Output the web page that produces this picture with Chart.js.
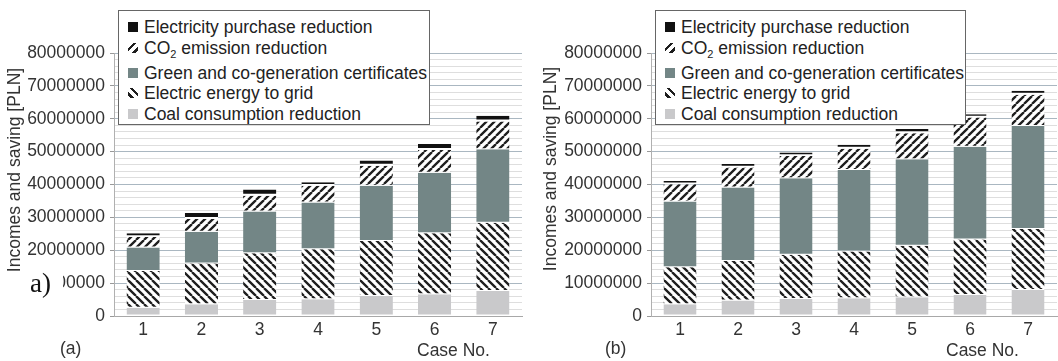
<!DOCTYPE html>
<html><head><meta charset="utf-8">
<script src="https://cdn.jsdelivr.net/npm/chart.js@4/dist/chart.umd.min.js"></script>
<style>
html,body{margin:0;padding:0;background:#fff;width:1058px;height:361px;overflow:hidden;position:relative;font-family:"Liberation Sans",Arial,sans-serif;color:#333}
.panel{position:absolute;top:0;height:361px}
.panel canvas{display:block;position:absolute;left:0;top:0}
.legend{position:absolute;top:10px;height:115px;border:1px solid #666;background:#fff;box-sizing:border-box}
.row{position:absolute;left:0;height:20px;line-height:20px;font-size:17.5px;white-space:nowrap;color:#222}
.row sub{font-size:11px;line-height:0;vertical-align:-4px}
.sw{position:absolute;left:9px;top:5px;width:10px;height:10px}
.txt{position:absolute;left:25px;top:0}
.ytitle{position:absolute;width:230px;height:22px;line-height:22px;font-size:17.5px;text-align:center;transform:rotate(-90deg);color:#333;white-space:nowrap}
.lbl{position:absolute;font-size:17.5px;line-height:22px;height:22px;color:#333;white-space:nowrap}
.amark{position:absolute;left:26px;top:270px;width:37px;height:28px;background:#fff;font-family:"Liberation Serif","Times New Roman",serif;font-size:27px;line-height:27px;color:#111}
.amark span{position:absolute;left:4px;top:0}
</style>
</head>
<body>
<div class="panel" id="pa" style="left:0;width:528px"><canvas id="ca" width="528" height="361"></canvas></div>
<div class="panel" id="pb" style="left:528px;width:530px"><canvas id="cb" width="530" height="361"></canvas></div>
<script>
// ---- data ----
const cases = ['1', '2', '3', '4', '5', '6', '7'];
const seriesNames = ['Coal consumption reduction', 'Electric energy to grid', 'Green and co-generation certificates', 'CO₂ emission reduction', 'Electricity purchase reduction'];
// (a)
const coalA  = [2500000, 3600000, 4900000, 5100000, 6100000, 6600000, 7600000];
const gridA  = [11200000, 12400000, 14200000, 15200000, 16700000, 18600000, 20800000];
const greenA = [7100000, 9600000, 12700000, 14200000, 16800000, 18400000, 22300000];
const co2A   = [3200000, 3900000, 4800000, 5100000, 6100000, 6900000, 8500000];
const elecA  = [1200000, 1800000, 1900000, 1100000, 1600000, 1800000, 1700000];
// (b)
const coalB  = [3600000, 4700000, 5200000, 5400000, 5700000, 6400000, 7900000];
const gridB  = [11200000, 12000000, 13400000, 14200000, 15700000, 16900000, 18600000];
const greenB = [20000000, 22400000, 23300000, 24800000, 26300000, 28200000, 31300000];
const co2B   = [5300000, 6100000, 6800000, 6500000, 7900000, 8900000, 9500000];
const elecB  = [1000000, 1000000, 1000000, 1200000, 1300000, 1000000, 1200000];
const yMax = 80000000, yMajor = 10000000, yMinor = 2000000;

const FONT = '"Liberation Sans", Arial, sans-serif';
const COAL = '#c9c9cb', GREEN = '#738686', ELEC = '#111111', INK = '#1e1e1e';

function stripes(ctx, dir) {
  const c = document.createElement('canvas'); c.width = 8; c.height = 8;
  const g = c.getContext('2d');
  g.fillStyle = '#fff'; g.fillRect(0, 0, 8, 8);
  g.strokeStyle = INK; g.lineWidth = 2.3; g.beginPath();
  for (let k = -1; k <= 1; k++) {
    if (dir === '/') { g.moveTo(k * 8, 8); g.lineTo(k * 8 + 8, 0); }
    else { g.moveTo(k * 8, 0); g.lineTo(k * 8 + 8, 8); }
  }
  g.stroke();
  return ctx.createPattern(c, 'repeat');
}

function makeChart(canvasId, sets, yWidth, padRight) {
  const cv = document.getElementById(canvasId);
  const ctx = cv.getContext('2d');
  const fills = [COAL, stripes(ctx, '\\'), GREEN, stripes(ctx, '/'), ELEC];
  const datasets = sets.map((d, i) => ({
    label: seriesNames[i],
    data: d,
    backgroundColor: fills[i],
    borderColor: '#ffffff',
    borderWidth: { top: 0, left: 0, right: 0, bottom: i === 4 ? 2 : 1 },
    borderSkipped: false,
    barPercentage: 0.57,
    categoryPercentage: 1.0
  }));
  return new Chart(cv, {
    type: 'bar',
    data: { labels: cases, datasets },
    options: {
      responsive: false, animation: false, devicePixelRatio: 1,
      layout: { padding: { top: 53, right: padRight, left: 0, bottom: 0 } },
      plugins: { legend: { display: false }, tooltip: { enabled: false } },
      scales: {
        x: {
          stacked: true,
          afterFit(a) { a.height = 45; },
          grid: { display: false, drawTicks: false },
          border: { display: true, color: '#a8a8a8', width: 1 },
          ticks: { padding: 4, color: '#333', font: { family: FONT, size: 17.5 } }
        },
        y: {
          stacked: true, min: 0, max: yMax,
          afterFit(a) { a.width = yWidth; },
          border: { display: true, color: '#b0b0b0', width: 1 },
          grid: {
            color: c => (c.tick && c.tick.value % yMajor === 0) ? '#aab7c1' : '#dedede',
            lineWidth: 1, drawTicks: true, tickLength: 4,
            tickColor: c => (c.tick && c.tick.value % yMajor === 0) ? '#999' : 'rgba(0,0,0,0)'
          },
          ticks: {
            stepSize: yMinor, autoSkip: false, padding: 5, color: '#333',
            font: { family: FONT, size: 17.5 },
            callback: v => (v % yMajor === 0) ? String(v) : ''
          }
        }
      }
    }
  });
}

makeChart('ca', [coalA, gridA, greenA, co2A, elecA], 114, 6);
makeChart('cb', [coalB, gridB, greenB, co2B, elecB], 123, 1);

// ---- HTML legend, titles, labels ----
const swStyles = [
  'background:' + ELEC,
  'background:repeating-linear-gradient(-45deg,#fff 0 2px,' + INK + ' 2px 4.5px,#fff 4.5px 6px)',
  'background:' + GREEN,
  'background:repeating-linear-gradient(45deg,#fff 0 2px,' + INK + ' 2px 4.5px,#fff 4.5px 6px)',
  'background:' + COAL
];
const legendHtml = ['Electricity purchase reduction', 'CO<sub>2</sub> emission reduction', 'Green and co-generation certificates', 'Electric energy to grid', 'Coal consumption reduction'];
const rowTops = [6, 27, 52, 72, 93];

function addDecor(panelId, legLeft, legWidth, yTitleCx, yTitleCy, caseLeft, tagLeft, tag) {
  const p = document.getElementById(panelId);
  const lg = document.createElement('div');
  lg.className = 'legend';
  lg.style.left = legLeft + 'px'; lg.style.width = legWidth + 'px';
  legendHtml.forEach((t, i) => {
    const r = document.createElement('div');
    r.className = 'row'; r.style.top = rowTops[i] + 'px'; r.style.width = (legWidth - 2) + 'px';
    r.innerHTML = '<div class="sw" style="' + swStyles[i] + '"></div><div class="txt">' + t + '</div>';
    lg.appendChild(r);
  });
  p.appendChild(lg);
  const yt = document.createElement('div');
  yt.className = 'ytitle'; yt.textContent = 'Incomes and saving [PLN]';
  yt.style.left = (yTitleCx - 115) + 'px'; yt.style.top = (yTitleCy - 11) + 'px';
  p.appendChild(yt);
  const cn = document.createElement('div');
  cn.className = 'lbl'; cn.textContent = 'Case No.';
  cn.style.left = caseLeft + 'px'; cn.style.top = '339px';
  p.appendChild(cn);
  const tg = document.createElement('div');
  tg.className = 'lbl'; tg.textContent = tag;
  tg.style.left = tagLeft + 'px'; tg.style.top = '337px';
  p.appendChild(tg);
}
addDecor('pa', 118, 312, 14, 170, 417, 60, '(a)');
addDecor('pb', 127, 311, 22, 169, 418, 77, '(b)');

const am = document.createElement('div');
am.className = 'amark'; am.innerHTML = '<span>a)</span>';
document.getElementById('pa').appendChild(am);
</script>
</body></html>
